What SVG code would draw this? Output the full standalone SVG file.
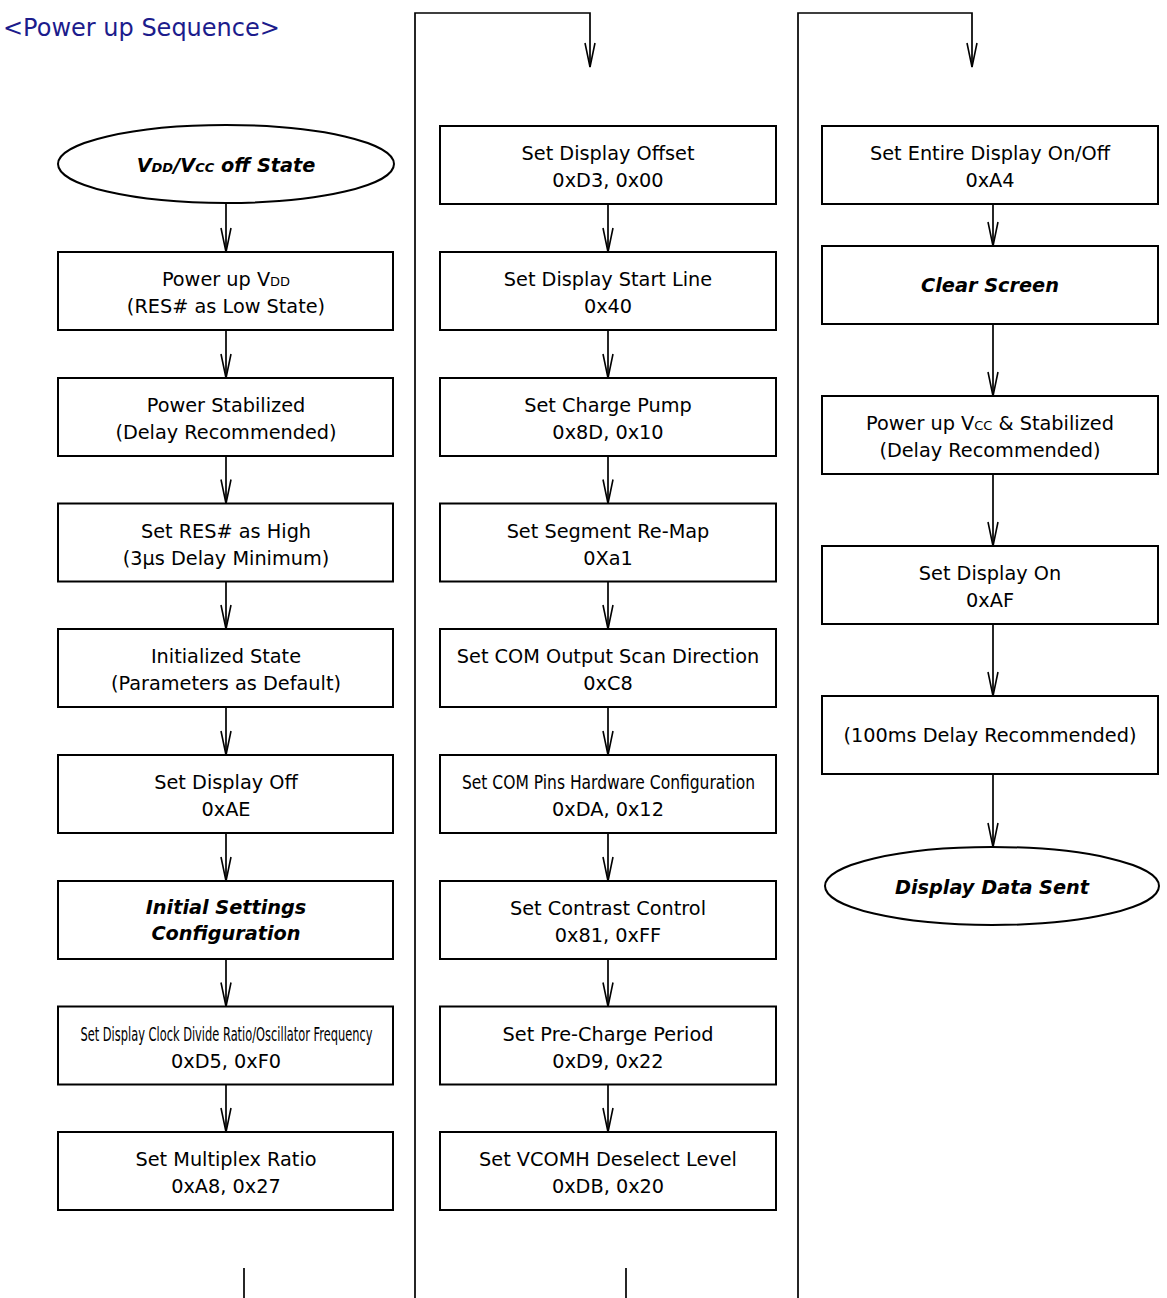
<svg xmlns="http://www.w3.org/2000/svg" width="1167" height="1298" viewBox="0 0 1167 1298">
<style>
.box{fill:#fff;stroke:#000;stroke-width:2}
.ln{fill:none;stroke:#000;stroke-width:1.7}
.t{font-family:"DejaVu Sans",sans-serif;font-size:19.3px;text-anchor:middle;fill:#000}
.b{font-weight:bold;font-style:italic}
.sub{font-size:13px}
.title{font-family:"DejaVu Sans",sans-serif;font-size:24px;fill:#1c1c8c}
</style>
<defs>
<marker id="arr" markerWidth="30" markerHeight="14" refX="25" refY="7" orient="auto" markerUnits="userSpaceOnUse" overflow="visible">
<path d="M1,2 L25,7 L1,12" fill="none" stroke="#000" stroke-width="1.6"/>
</marker>
</defs>
<rect width="1167" height="1298" fill="#fff"/>
<text class="title" x="3" y="36">&lt;Power up Sequence&gt;</text>

<g id="connectors">
<line class="ln" x1="226" y1="203" x2="226" y2="252" marker-end="url(#arr)"/>
<line class="ln" x1="226" y1="330" x2="226" y2="378" marker-end="url(#arr)"/>
<line class="ln" x1="226" y1="456" x2="226" y2="503.5" marker-end="url(#arr)"/>
<line class="ln" x1="226" y1="581.5" x2="226" y2="629" marker-end="url(#arr)"/>
<line class="ln" x1="226" y1="707" x2="226" y2="755" marker-end="url(#arr)"/>
<line class="ln" x1="226" y1="833" x2="226" y2="881" marker-end="url(#arr)"/>
<line class="ln" x1="226" y1="959" x2="226" y2="1006.5" marker-end="url(#arr)"/>
<line class="ln" x1="226" y1="1084.5" x2="226" y2="1132" marker-end="url(#arr)"/>
<line class="ln" x1="244" y1="1268" x2="244" y2="1298"/>

<polyline class="ln" points="415,1298 415,13 590,13 590,67" marker-end="url(#arr)"/>
<line class="ln" x1="608" y1="204" x2="608" y2="252" marker-end="url(#arr)"/>
<line class="ln" x1="608" y1="330" x2="608" y2="378" marker-end="url(#arr)"/>
<line class="ln" x1="608" y1="456" x2="608" y2="503.5" marker-end="url(#arr)"/>
<line class="ln" x1="608" y1="581.5" x2="608" y2="629" marker-end="url(#arr)"/>
<line class="ln" x1="608" y1="707" x2="608" y2="755" marker-end="url(#arr)"/>
<line class="ln" x1="608" y1="833" x2="608" y2="881" marker-end="url(#arr)"/>
<line class="ln" x1="608" y1="959" x2="608" y2="1006.5" marker-end="url(#arr)"/>
<line class="ln" x1="608" y1="1084.5" x2="608" y2="1132" marker-end="url(#arr)"/>
<line class="ln" x1="626" y1="1268" x2="626" y2="1298"/>

<polyline class="ln" points="798,1298 798,13 972,13 972,67" marker-end="url(#arr)"/>
<line class="ln" x1="993" y1="204" x2="993" y2="246" marker-end="url(#arr)"/>
<line class="ln" x1="993" y1="324" x2="993" y2="396" marker-end="url(#arr)"/>
<line class="ln" x1="993" y1="474" x2="993" y2="546" marker-end="url(#arr)"/>
<line class="ln" x1="993" y1="624" x2="993" y2="696" marker-end="url(#arr)"/>
<line class="ln" x1="993" y1="774" x2="993" y2="847" marker-end="url(#arr)"/>
</g>

<!-- Left column -->
<g id="n-off-state">
<ellipse class="box" cx="226" cy="164" rx="168" ry="39"/>
<text class="t b" x="226" y="172">V<tspan class="sub">DD</tspan>/V<tspan class="sub">CC</tspan> off State</text>
</g>
<g id="n-power-vdd">
<rect class="box" x="58" y="252" width="335" height="78"/>
<text class="t" x="226" y="286">Power up V<tspan class="sub">DD</tspan></text>
<text class="t" x="226" y="313">(RES# as Low State)</text>
</g>
<g id="n-power-stab">
<rect class="box" x="58" y="378" width="335" height="78"/>
<text class="t" x="226" y="412">Power Stabilized</text>
<text class="t" x="226" y="439">(Delay Recommended)</text>
</g>
<g id="n-res-high">
<rect class="box" x="58" y="503.5" width="335" height="78"/>
<text class="t" x="226" y="537.5">Set RES# as High</text>
<text class="t" x="226" y="564.5">(3µs Delay Minimum)</text>
</g>
<g id="n-init-state">
<rect class="box" x="58" y="629" width="335" height="78"/>
<text class="t" x="226" y="663">Initialized State</text>
<text class="t" x="226" y="690">(Parameters as Default)</text>
</g>
<g id="n-display-off">
<rect class="box" x="58" y="755" width="335" height="78"/>
<text class="t" x="226" y="789">Set Display Off</text>
<text class="t" x="226" y="816">0xAE</text>
</g>
<g id="n-init-settings">
<rect class="box" x="58" y="881" width="335" height="78"/>
<text class="t b" x="226" y="914">Initial Settings</text>
<text class="t b" x="226" y="940">Configuration</text>
</g>
<g id="n-clock">
<rect class="box" x="58" y="1006.5" width="335" height="78"/>
<text class="t" transform="translate(226.5,1040.5) scale(0.589,1)" x="0" y="0" textLength="496" lengthAdjust="spacingAndGlyphs">Set Display Clock Divide Ratio/Oscillator Frequency</text>
<text class="t" x="226" y="1067.5">0xD5, 0xF0</text>
</g>
<g id="n-multiplex">
<rect class="box" x="58" y="1132" width="335" height="78"/>
<text class="t" x="226" y="1166">Set Multiplex Ratio</text>
<text class="t" x="226" y="1193">0xA8, 0x27</text>
</g>

<!-- Middle column -->
<g id="n-offset">
<rect class="box" x="440" y="126" width="336" height="78"/>
<text class="t" x="608" y="160">Set Display Offset</text>
<text class="t" x="608" y="187">0xD3, 0x00</text>
</g>
<g id="n-start-line">
<rect class="box" x="440" y="252" width="336" height="78"/>
<text class="t" x="608" y="286">Set Display Start Line</text>
<text class="t" x="608" y="313">0x40</text>
</g>
<g id="n-charge-pump">
<rect class="box" x="440" y="378" width="336" height="78"/>
<text class="t" x="608" y="412">Set Charge Pump</text>
<text class="t" x="608" y="439">0x8D, 0x10</text>
</g>
<g id="n-remap">
<rect class="box" x="440" y="503.5" width="336" height="78"/>
<text class="t" x="608" y="537.5">Set Segment Re-Map</text>
<text class="t" x="608" y="564.5">0Xa1</text>
</g>
<g id="n-com-scan">
<rect class="box" x="440" y="629" width="336" height="78"/>
<text class="t" x="608" y="663">Set COM Output Scan Direction</text>
<text class="t" x="608" y="690">0xC8</text>
</g>
<g id="n-com-pins">
<rect class="box" x="440" y="755" width="336" height="78"/>
<text class="t" transform="translate(608.5,789) scale(0.801,1)" x="0" y="0" textLength="366" lengthAdjust="spacingAndGlyphs">Set COM Pins Hardware Configuration</text>
<text class="t" x="608" y="816">0xDA, 0x12</text>
</g>
<g id="n-contrast">
<rect class="box" x="440" y="881" width="336" height="78"/>
<text class="t" x="608" y="915">Set Contrast Control</text>
<text class="t" x="608" y="942">0x81, 0xFF</text>
</g>
<g id="n-precharge">
<rect class="box" x="440" y="1006.5" width="336" height="78"/>
<text class="t" x="608" y="1040.5">Set Pre-Charge Period</text>
<text class="t" x="608" y="1067.5">0xD9, 0x22</text>
</g>
<g id="n-vcomh">
<rect class="box" x="440" y="1132" width="336" height="78"/>
<text class="t" x="608" y="1166">Set VCOMH Deselect Level</text>
<text class="t" x="608" y="1193">0xDB, 0x20</text>
</g>

<!-- Right column -->
<g id="n-entire-display">
<rect class="box" x="822" y="126" width="336" height="78"/>
<text class="t" x="990" y="160">Set Entire Display On/Off</text>
<text class="t" x="990" y="187">0xA4</text>
</g>
<g id="n-clear-screen">
<rect class="box" x="822" y="246" width="336" height="78"/>
<text class="t b" x="990" y="292">Clear Screen</text>
</g>
<g id="n-power-vcc">
<rect class="box" x="822" y="396" width="336" height="78"/>
<text class="t" x="990" y="430">Power up V<tspan class="sub">CC</tspan> &amp; Stabilized</text>
<text class="t" x="990" y="457">(Delay Recommended)</text>
</g>
<g id="n-display-on">
<rect class="box" x="822" y="546" width="336" height="78"/>
<text class="t" x="990" y="580">Set Display On</text>
<text class="t" x="990" y="607">0xAF</text>
</g>
<g id="n-delay">
<rect class="box" x="822" y="696" width="336" height="78"/>
<text class="t" x="990" y="742">(100ms Delay Recommended)</text>
</g>
<g id="n-data-sent">
<ellipse class="box" cx="992" cy="886" rx="167" ry="39"/>
<text class="t b" x="992" y="894">Display Data Sent</text>
</g>
</svg>
